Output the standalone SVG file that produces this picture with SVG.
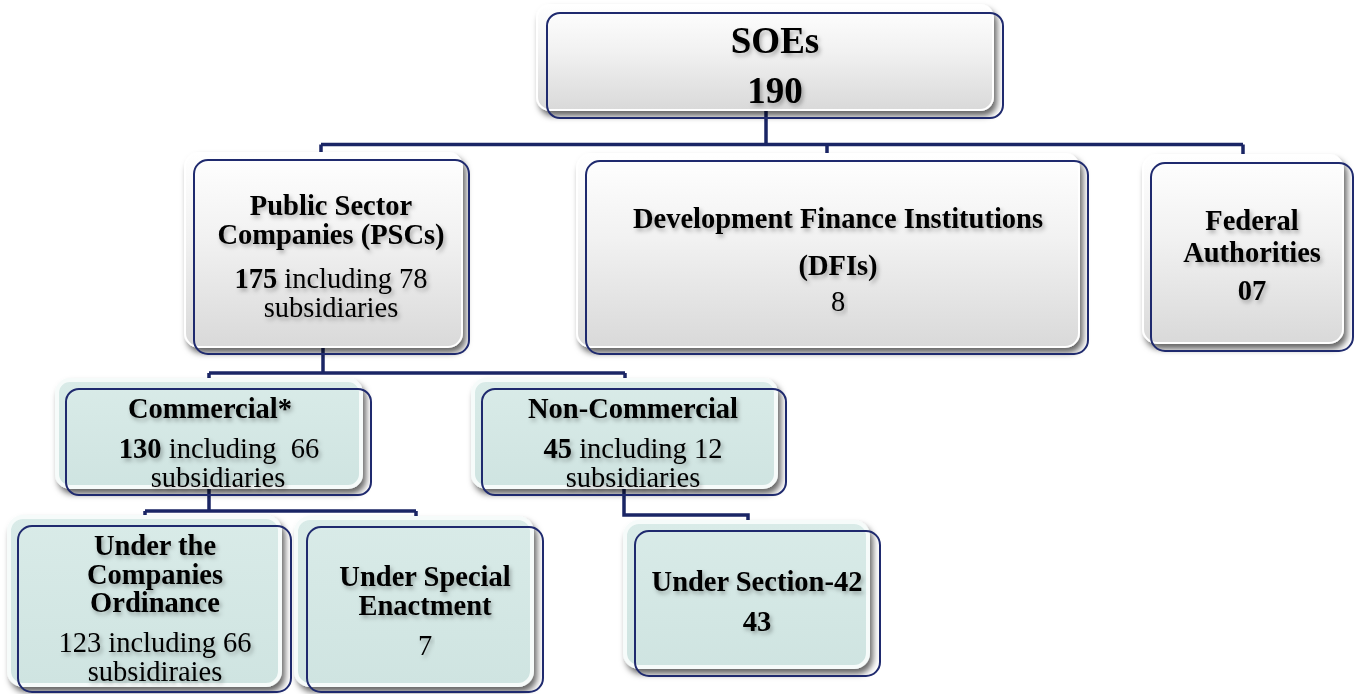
<svg xmlns="http://www.w3.org/2000/svg" width="1358" height="694" viewBox="0 0 1358 694">
<defs>
  <linearGradient id="gGray" x1="0" y1="0" x2="0" y2="1">
    <stop offset="0" stop-color="#ffffff"/>
    <stop offset="0.45" stop-color="#f1f1f1"/>
    <stop offset="1" stop-color="#d9d9d9"/>
  </linearGradient>
  <linearGradient id="gTeal" x1="0" y1="0" x2="0" y2="1">
    <stop offset="0" stop-color="#d9ebe8"/>
    <stop offset="1" stop-color="#cfe4e1"/>
  </linearGradient>
  <filter id="boxShadow" x="-10%" y="-10%" width="130%" height="140%">
    <feDropShadow dx="3" dy="5" stdDeviation="3" flood-color="#000" flood-opacity="0.6"/>
  </filter>
  <filter id="txtShadow" x="-10%" y="-30%" width="130%" height="170%">
    <feDropShadow dx="2" dy="3" stdDeviation="2.2" flood-color="#000" flood-opacity="0.3"/>
  </filter>
</defs>
<style>
  .back { filter: url(#boxShadow); }
  .gray { fill: url(#gGray); stroke: #ffffff; stroke-width: 2; }
  .teal { fill: url(#gTeal); stroke: #f6fbfa; stroke-width: 4; }
  .outline { fill: none; stroke: #1f2a6e; stroke-width: 2; }
  .conn { fill: none; stroke: #1a2565; stroke-width: 3.5; }
  text { font-family: "Liberation Serif", "Times New Roman", serif; fill: #000; text-anchor: middle; filter: url(#txtShadow); }
  .t { font-size: 28.5px; }
  .b { font-weight: bold; }
  .big { font-size: 37px; font-weight: bold; }
</style>

<g id="connectors">
  <path class="conn" d="M766,110 V145"/>
  <path class="conn" d="M321,144.5 H1243"/>
  <path class="conn" d="M321,144.5 V155"/>
  <path class="conn" d="M827,144.5 V155"/>
  <path class="conn" d="M1243,144.5 V157"/>
  <path class="conn" d="M323,345 V373"/>
  <path class="conn" d="M209,373 H625"/>
  <path class="conn" d="M209,373 V382"/>
  <path class="conn" d="M625,373 V382"/>
  <path class="conn" d="M209,485 V511"/>
  <path class="conn" d="M145,511 H416"/>
  <path class="conn" d="M145,511 V519"/>
  <path class="conn" d="M416,511 V520"/>
  <path class="conn" d="M624,485 V515 H748 V524"/>
</g>

<g id="node-soes">
  <rect class="back gray" x="537" y="5" width="456" height="105" rx="13"/>
  <rect class="outline" x="547" y="13" width="456" height="105" rx="13"/>
  <text class="big" x="775" y="53">SOEs</text>
  <text class="big" x="775" y="103">190</text>
</g>

<g id="node-psc">
  <rect class="back gray" x="185" y="153" width="277" height="194" rx="14"/>
  <rect class="outline" x="194" y="160" width="275" height="194" rx="14"/>
  <text class="t b" x="331" y="215">Public Sector</text>
  <text class="t b" x="331" y="244">Companies (PSCs)</text>
  <text class="t" x="331" y="288"><tspan class="b">175</tspan> including 78</text>
  <text class="t" x="331" y="316.5">subsidiaries</text>
</g>

<g id="node-dfi">
  <rect class="back gray" x="577" y="154" width="502" height="193" rx="14"/>
  <rect class="outline" x="586" y="161" width="502" height="193" rx="14"/>
  <text class="t b" x="838" y="228">Development Finance Institutions</text>
  <text class="t b" x="838" y="275">(DFIs)</text>
  <text class="t" x="838" y="311">8</text>
</g>

<g id="node-federal">
  <rect class="back gray" x="1143" y="155" width="200" height="188" rx="14"/>
  <rect class="outline" x="1151" y="163" width="202" height="188" rx="14"/>
  <text class="t b" x="1252" y="230">Federal</text>
  <text class="t b" x="1252" y="262">Authorities</text>
  <text class="t b" x="1252" y="300">07</text>
</g>

<g id="node-commercial">
  <rect class="back teal" x="57" y="380" width="304" height="107" rx="13"/>
  <rect class="outline" x="66" y="389" width="305" height="106" rx="13"/>
  <text class="t b" x="210" y="418">Commercial*</text>
  <text class="t" x="219" y="458" xml:space="preserve"><tspan class="b">130</tspan> including  66</text>
  <text class="t" x="218" y="486.5">subsidiaries</text>
</g>

<g id="node-noncommercial">
  <rect class="back teal" x="473" y="380" width="303" height="107" rx="13"/>
  <rect class="outline" x="482" y="389" width="304" height="106" rx="13"/>
  <text class="t b" x="633" y="418">Non-Commercial</text>
  <text class="t" x="633" y="458"><tspan class="b">45</tspan> including 12</text>
  <text class="t" x="633" y="486.5">subsidiaries</text>
</g>

<g id="node-companies-ordinance">
  <rect class="back teal" x="9" y="517" width="271" height="168" rx="14"/>
  <rect class="outline" x="18" y="526" width="273" height="166" rx="14"/>
  <text class="t b" x="155" y="555">Under the</text>
  <text class="t b" x="155" y="583.5">Companies</text>
  <text class="t b" x="155" y="612">Ordinance</text>
  <text class="t" x="155" y="652">123 including 66</text>
  <text class="t" x="155" y="681">subsidiraies</text>
</g>

<g id="node-special-enactment">
  <rect class="back teal" x="296" y="518" width="236" height="167" rx="14"/>
  <rect class="outline" x="307" y="527" width="236" height="165" rx="14"/>
  <text class="t b" x="425" y="586">Under Special</text>
  <text class="t b" x="425" y="614.5">Enactment</text>
  <text class="t" x="425" y="655">7</text>
</g>

<g id="node-section42">
  <rect class="back teal" x="625" y="522" width="243" height="145" rx="14"/>
  <rect class="outline" x="635" y="531" width="245" height="145" rx="14"/>
  <text class="t b" x="757" y="591">Under Section-42</text>
  <text class="t b" x="757" y="631">43</text>
</g>
</svg>
